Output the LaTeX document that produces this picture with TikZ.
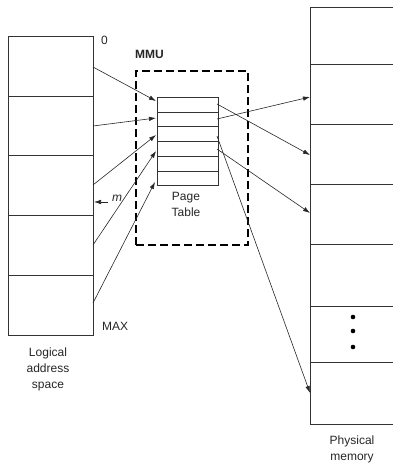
\documentclass[tikz,border=0pt]{standalone}
\usepackage{fontspec}
\setmainfont{Liberation Sans}
\usetikzlibrary{arrows.meta}
\begin{document}
\begin{tikzpicture}[x=1pt,y=-1pt,
  cell/.style={draw=black!80,line width=0.7pt},
  conn/.style={draw=black!85,line width=0.6pt,-{Latex[length=7pt,width=4.5pt]}},
  lbl/.style={font=\fontsize{12}{16}\selectfont,align=center,text=black!85,inner sep=0pt},
  mmubox/.style={draw=black,line width=2.4pt,dash pattern=on 8pt off 4pt}]
\useasboundingbox (0,0) rectangle (392,465);
% logical address space
\foreach \i/\a/\b in {1/36/96,2/96/155,3/155/215,4/215/275,5/275/335}
  \node[cell,minimum width=85pt,minimum height={\b-\a},inner sep=0pt,anchor=north west] (L\i) at (8,\a) {};
% MMU box
\node[mmubox,minimum width=112pt,minimum height=174pt,inner sep=0pt,anchor=north west] (mmu) at (135,70) {};
% page table rows
\foreach \i in {1,...,6}
  \node[cell,minimum width=61pt,minimum height=14.7pt,inner sep=0pt,anchor=north west] (P\i) at (156.5,{97+14.7*(\i-1)}) {};
% physical memory
\foreach \i/\a/\b in {1/7/64,2/64/124,3/124/184,4/184/244,5/244/306,6/306/362,7/362/424}
  \node[cell,minimum width=90pt,minimum height={\b-\a},inner sep=0pt,anchor=north west] (M\i) at (310.3,\a) {};
\fill[black] (353,317) circle (2.3pt) (353,331) circle (2.3pt) (353,347) circle (2.3pt);
% labels
\node[lbl,anchor=west] (zero) at (101,40) {0};
\node[lbl,anchor=west] (max) at (102,326) {MAX};
\node[lbl,anchor=west,font=\fontsize{12}{16}\selectfont\bfseries] (mmul) at (135,54) {MMU};
\node[lbl] (pt) at (186,204) {Page\\Table};
\node[lbl] (las) at (48,369) {Logical\\address\\space};
\node[lbl] (pm) at (352,449) {Physical\\memory};
\node[lbl,anchor=west,font=\fontsize{12}{16}\selectfont\itshape] (m) at (112,198) {m};
\coordinate (mtip) at (94,202);
\coordinate (mstart) at (108,202);
\draw[conn] (mstart) -- (mtip);
% logical -> page table
\coordinate (l1) at (93,67);  \coordinate (p1) at (156,101);
\coordinate (l2) at (93,126); \coordinate (p2) at (156,118);
\coordinate (l3) at (93,185); \coordinate (p3) at (156,135);
\coordinate (l4) at (93,245); \coordinate (p4) at (156,151);
\coordinate (l5) at (93,303); \coordinate (p5) at (155,182);
\foreach \i in {1,...,5} \draw[conn] (l\i) -- (p\i);
% page table -> physical
\coordinate (qa) at (217,119); \coordinate (ma) at (310,97);
\coordinate (qb) at (217,104); \coordinate (mb) at (310,155);
\coordinate (qc) at (217,149); \coordinate (mc) at (310,213);
\coordinate (qd) at (217,136); \coordinate (md) at (310,393);
\foreach \i in {a,b,c,d} \draw[conn] (q\i) -- (m\i);
\end{tikzpicture}
\end{document}
